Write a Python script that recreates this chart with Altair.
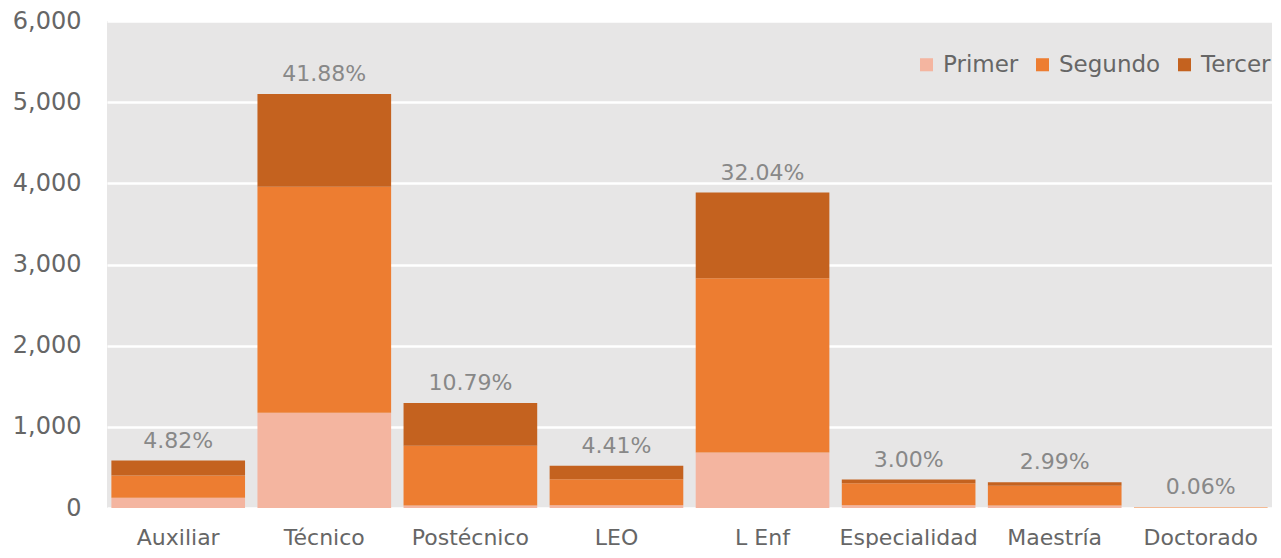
import altair as alt
import pandas as pd

categories = ["Auxiliar", "Técnico", "Postécnico", "LEO", "L Enf", "Especialidad", "Maestría", "Doctorado"]
primer = [125, 1175, 30, 35, 685, 35, 30, 0]
segundo = [275, 2782, 736, 318, 2147, 270, 245, 5]
tercer = [184, 1145, 528, 168, 1055, 45, 42, 2]
percent_labels = ["4.82%", "41.88%", "10.79%", "4.41%", "32.04%", "3.00%", "2.99%", "0.06%"]
series = ["Primer", "Segundo", "Tercer"]
colors = ["#F4B5A0", "#ED7D31", "#C4621F"]

rows = []
for i, c in enumerate(categories):
    for k, (s, vals) in enumerate(zip(series, [primer, segundo, tercer])):
        rows.append({"cat": c, "serie": s, "valor": vals[i], "ord": k})
df = pd.DataFrame(rows)

tot = pd.DataFrame({
    "cat": categories,
    "total": [p + s + t for p, s, t in zip(primer, segundo, tercer)],
    "pct": percent_labels,
})

FONT = "DejaVu Sans"
FS = 22
x = alt.X("cat:N", sort=categories, title=None,
          scale=alt.Scale(paddingInner=0.085, paddingOuter=0.03),
          axis=alt.Axis(labelAngle=0, labelFontSize=FS, labelColor="#666666", labelFont=FONT,
                        ticks=False, domain=False, labelPadding=19))

bars = alt.Chart(df).mark_bar().encode(
    x=x,
    y=alt.Y("valor:Q", title=None, stack="zero",
            scale=alt.Scale(domain=[0, 6000], nice=False),
            axis=alt.Axis(values=[0, 1000, 2000, 3000, 4000, 5000, 6000], format=",.0f",
                          labelFontSize=24, labelColor="#666666", labelFont=FONT,
                          ticks=False, domain=False, labelPadding=26,
                          grid=True, gridColor="#FFFFFF", gridWidth=2.5)),
    color=alt.Color("serie:N", sort=series, title=None,
                    scale=alt.Scale(domain=series, range=colors),
                    legend=alt.Legend(orient="none", direction="horizontal", legendX=808, legendY=32,
                                      symbolType="square", symbolSize=170, symbolStrokeWidth=0,
                                      labelFontSize=23, labelColor="#666666", labelFont=FONT,
                                      columnPadding=12, labelOffset=5)),
    order=alt.Order("ord:Q", sort="ascending"),
)

labels = alt.Chart(tot).mark_text(baseline="middle", dy=-20, fontSize=FS, color="#888888", font=FONT).encode(
    x=alt.X("cat:N", sort=categories),
    y=alt.Y("total:Q"),
    text="pct:N",
)

chart = (bars + labels).properties(
    width=1165, height=487,
    padding={"left": 4, "top": 1, "right": 0, "bottom": 0},
).configure_view(fill="#E7E6E6", stroke=None)

chart.save("out.html", embed_options={"renderer": "svg", "actions": False})
